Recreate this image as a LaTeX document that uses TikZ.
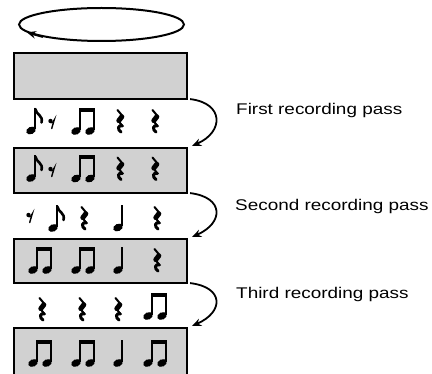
\documentclass[tikz,border=0pt]{standalone}
\usepackage{fontspec}
\newfontfamily\lblfont[FakeStretch=1.22]{Liberation Sans}
\usetikzlibrary{shapes.geometric,arrows.meta}
\tikzset{
  boxst/.style={draw, line width=2.2pt, fill=black!18, inner sep=0pt, minimum width=173pt},
  conn/.style={line width=1.8pt, -{Stealth[length=9pt,width=7.5pt]}},
  lbl/.style={font=\lblfont\fontsize{15.5}{18}\selectfont, inner sep=0pt, anchor=base west},
  nhead/.style={rotate=25},
  pics/eighthnote/.style={code={
    \fill[nhead] (0,0) ellipse [x radius=5, y radius=3.6];
    \draw[line width=1.9pt] (4.3,-1) -- (4.3,-22.5);
    \draw[line width=2.6pt, line cap=round] (4.3,-21.5) .. controls (5,-16) and (12.5,-15) .. (10.5,-8);
  }},
  pics/quarternote/.style={code={
    \fill[nhead] (0,0) ellipse [x radius=5, y radius=3.6];
    \draw[line width=1.9pt] (4.3,-1) -- (4.3,-22.5);
  }},
  pics/beamedpair/.style={code={
    \fill[nhead] (0,0) ellipse [x radius=5, y radius=3.6];
    \fill[shift={(14,0)},nhead] (0,0) ellipse [x radius=5, y radius=3.6];
    \draw[line width=1.9pt] (4.3,-1) -- (4.3,-22);
    \draw[line width=1.9pt] (18.3,-1) -- (18.3,-22);
    \fill (3.35,-23) rectangle (19.25,-19.2);
  }},
  pics/quarterrest/.style={code={
    \draw[line width=2pt, line cap=round] (-2.5,0) -- (2.5,6);
    \draw[line width=5pt, line cap=round] (1.8,6.8) -- (-1.2,10.6);
    \draw[line width=2pt, line cap=round] (-1.5,11) -- (2.5,16);
    \draw[line width=3pt, line cap=round] (2.5,16) .. controls (-2,14.5) and (-3,19.5) .. (1,22);
  }},
  pics/eighthrest/.style={code={
    \fill (-1.5,-2) circle (2.2);
    \draw[line width=1.4pt, line cap=round] (-1,-0.3) .. controls (1,-0.5) .. (2.2,-3) -- (-0.3,5.5);
  }},
}
\begin{document}
\begin{tikzpicture}[x=1pt,y=-1pt]
\clip (0,0) rectangle (432,374);
% loop ellipse
\node[draw, ellipse, line width=2pt, minimum width=165pt, minimum height=33pt, inner sep=0pt] (loop) at (101.5,24.5) {};
\draw[line width=2pt, -{Stealth[length=9pt,width=7.5pt]}] (loop.192) -- (loop.186.5);
% boxes
\node[boxst, minimum height=46pt] (b1) at (100.5,76) {};
\node[boxst, minimum height=45pt] (b2) at (100.5,170.5) {};
\node[boxst, minimum height=44pt] (b3) at (100.5,261) {};
\node[boxst, minimum height=50pt] (b4) at (100.5,353) {};
% connectors
\draw[conn] ([shift={(2,-1)}]b1.south east) .. controls +(34,4) and +(32,-14) .. ([shift={(4,-1)}]b2.north east);
\draw[conn] ([shift={(2,-1)}]b2.south east) .. controls +(34,4) and +(32,-14) .. ([shift={(4,-1)}]b3.north east);
\draw[conn] ([shift={(2,-1)}]b3.south east) .. controls +(34,4) and +(32,-14) .. ([shift={(4,-1)}]b4.north east);
% labels
\node[lbl] (t1) at (236,115) {First recording pass};
\node[lbl] (t2) at (235,211) {Second recording pass};
\node[lbl] (t3) at (236,299) {Third recording pass};
% row 1
\pic at (31,130.5) {eighthnote};
\pic at (52,123) {eighthrest};
\pic at (76,131) {beamedpair};
\pic at (120,110) {quarterrest};
\pic at (155,110) {quarterrest};
% box 2
\pic at (31,178) {eighthnote};
\pic at (52,171) {eighthrest};
\pic at (76,178.5) {beamedpair};
\pic at (120,157.5) {quarterrest};
\pic at (155,157.5) {quarterrest};
% row 2
\pic at (30,217) {eighthrest};
\pic at (53,228) {eighthnote};
\pic at (84,207) {quarterrest};
\pic at (118,227.5) {quarternote};
\pic at (157,207) {quarterrest};
% box 3
\pic at (33,270) {beamedpair};
\pic at (76,270) {beamedpair};
\pic at (118,270) {quarternote};
\pic at (157,249) {quarterrest};
% row 3
\pic at (42,298) {quarterrest};
\pic at (82,298) {quarterrest};
\pic at (118,298) {quarterrest};
\pic at (148,316) {beamedpair};
% box 4
\pic at (33,363) {beamedpair};
\pic at (76,363) {beamedpair};
\pic at (118,363) {quarternote};
\pic at (148,363) {beamedpair};
\end{tikzpicture}
\end{document}
